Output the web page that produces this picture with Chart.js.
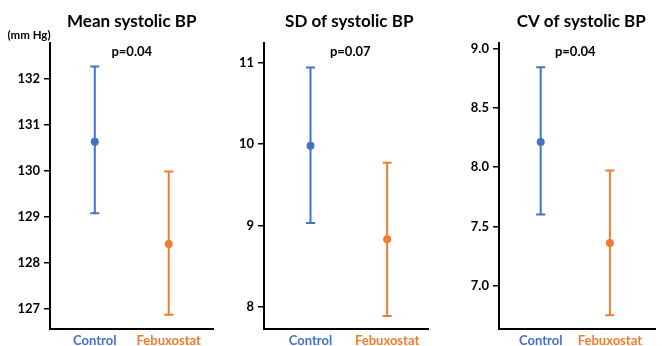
<!DOCTYPE html>
<html>
<head>
<meta charset="utf-8">
<script src="https://cdn.jsdelivr.net/npm/chart.js@4.4.1/dist/chart.umd.min.js"></script>
<style>
  html, body { margin: 0; padding: 0; background: #fff; }
  #wrap { position: relative; width: 662px; height: 346px; overflow: hidden; }
  .pane { position: absolute; top: 0; height: 346px; }
</style>
</head>
<body>
<div id="wrap">
  <div class="pane" style="left:0;width:220px"><canvas id="c1"></canvas></div>
  <div class="pane" style="left:220px;width:215px"><canvas id="c2"></canvas></div>
  <div class="pane" style="left:440px;width:222px"><canvas id="c3"></canvas></div>
</div>
<script>
// ---- data ----
const categories = ["Control", "Febuxostat"];
const categoryColors = ["#4472C4", "#ED7D31"];

const titles = ["Mean systolic BP", "SD of systolic BP", "CV of systolic BP"];
const pValues = ["p=0.04", "p=0.07", "p=0.04"];

const meanSBP  = [130.63, 128.40];
const meanSBPLow  = [129.07, 126.86];
const meanSBPHigh = [132.27, 129.98];

const sdSBP  = [9.98, 8.83];
const sdSBPLow  = [9.03, 7.89];
const sdSBPHigh = [10.94, 9.77];

const cvSBP  = [8.21, 7.36];
const cvSBPLow  = [7.60, 6.75];
const cvSBPHigh = [8.84, 7.97];

const ticks1 = [127, 128, 129, 130, 131, 132];
const ticks2 = [8, 9, 10, 11];
const ticks3 = [7.0, 7.5, 8.0, 8.5, 9.0];

const yRange1 = [126.55, 132.78];
const yRange2 = [7.73, 11.24];
const yRange3 = [6.635, 9.045];

const FONT = "Lato, 'Open Sans', 'DejaVu Sans', sans-serif";

function makeDatasets(mean, low, high) {
  const ds = [];
  categories.forEach((c, i) => {
    ds.push({
      label: c + " range",
      data: [{x: i + 1, y: low[i]}, {x: i + 1, y: high[i]}],
      showLine: true,
      borderColor: categoryColors[i],
      backgroundColor: categoryColors[i],
      borderWidth: 2,
      pointStyle: 'line',
      pointRadius: 4.5,
      pointBorderWidth: 2,
      pointHoverRadius: 4.5
    });
    ds.push({
      label: c,
      data: [{x: i + 1, y: mean[i]}],
      borderColor: categoryColors[i],
      backgroundColor: categoryColors[i],
      pointStyle: 'circle',
      pointRadius: 4,
      pointBorderWidth: 0,
      pointHoverRadius: 4
    });
  });
  return ds;
}

const textPlugin = {
  id: 'panelText',
  afterDraw(chart, args, opts) {
    const ctx = chart.ctx;
    const ca = chart.chartArea;
    const cx = (ca.left + ca.right) / 2 + (opts.titleShift || 0);
    ctx.save();
    ctx.fillStyle = '#000';
    ctx.textAlign = 'center';
    ctx.textBaseline = 'middle';
    ctx.font = "bold 17px " + FONT;
    ctx.fillText(opts.title, cx, 22);
    ctx.font = "bold 13px " + FONT;
    ctx.fillText(opts.p, (ca.left + ca.right) / 2 + (opts.pShift || 0), 52);
    if (opts.unit) {
      ctx.font = "bold 11.5px " + FONT;
      ctx.fillText(opts.unit, 29, 35);
    }
    ctx.restore();
  }
};

function makeChart(id, mean, low, high, tickVals, range, xr, yWidth, rightPad, decimals, opts) {
  return new Chart(document.getElementById(id), {
    type: 'scatter',
    data: { datasets: makeDatasets(mean, low, high) },
    plugins: [textPlugin],
    options: {
      responsive: true,
      maintainAspectRatio: false,
      animation: false,
      layout: { padding: { top: 43, right: rightPad, bottom: 0, left: 0 } },
      plugins: {
        legend: { display: false },
        tooltip: { enabled: false },
        panelText: opts
      },
      scales: {
        x: {
          type: 'linear',
          min: xr[0], max: xr[1],
          afterBuildTicks: s => { s.ticks = categories.map((c, i) => ({ value: i + 1 })); },
          afterFit: s => { s.height = 17; },
          grid: { display: false, drawTicks: false },
          border: { display: true, color: '#000', width: 2 },
          ticks: {
            padding: 4,
            autoSkip: false,
            maxRotation: 0,
            font: { family: FONT, size: 13, weight: 'bold' },
            color: ctx => categoryColors[ctx.index],
            callback: v => categories[Math.round(v) - 1]
          }
        },
        y: {
          type: 'linear',
          min: range[0], max: range[1],
          afterBuildTicks: s => { s.ticks = tickVals.map(v => ({ value: v })); },
          afterFit: s => { s.width = yWidth; },
          grid: { drawOnChartArea: false, drawTicks: true, tickLength: 6, color: '#000', lineWidth: 1.5 },
          border: { display: true, color: '#000', width: 2 },
          ticks: {
            padding: 4,
            font: { family: FONT, size: 13, weight: 'bold' },
            color: '#000',
            callback: v => v.toFixed(decimals)
          }
        }
      }
    }
  });
}

makeChart('c1', meanSBP, meanSBPLow, meanSBPHigh, ticks1, yRange1, [0.394, 2.606], 50, 2, 0,
  { title: titles[0], p: pValues[0], unit: "(mm Hg)", titleShift: 0, pShift: 0 });
makeChart('c2', sdSBP, sdSBPLow, sdSBPHigh, ticks2, yRange2, [0.393, 2.54], 44, 2, 0,
  { title: titles[1], p: pValues[1], titleShift: 3, pShift: 4 });
makeChart('c3', cvSBP, cvSBPLow, cvSBPHigh, ticks3, yRange3, [0.397, 2.66], 59, 0, 1,
  { title: titles[2], p: pValues[2], titleShift: 4, pShift: -2 });
</script>
</body>
</html>
